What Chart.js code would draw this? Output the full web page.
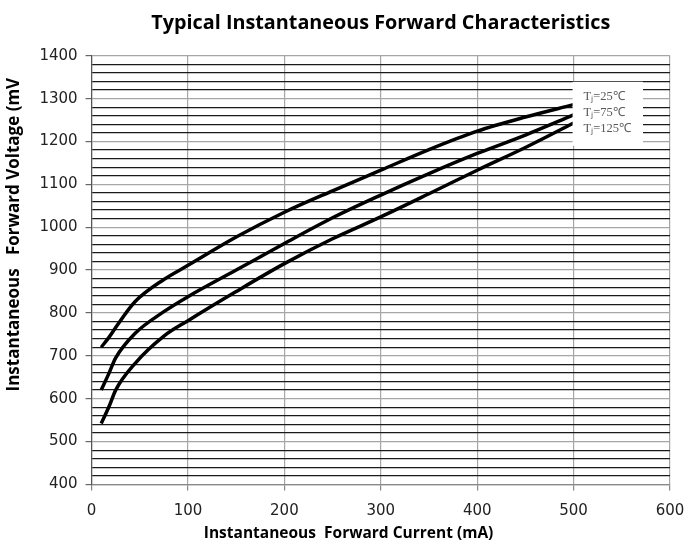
<!DOCTYPE html>
<html>
<head>
<meta charset="utf-8">
<script src="https://cdn.jsdelivr.net/npm/chart.js@4.4.1/dist/chart.umd.min.js"></script>
<style>
  body { margin: 0; background: #fff; }
  #wrap { width: 689px; height: 545px; position: relative; }
</style>
</head>
<body>
<div id="wrap"><canvas id="grafico"></canvas></div>
<script>
// datos
const corriente = [10, 18, 25, 45, 75, 100, 150, 200, 250, 300, 350, 400, 450, 500];
const v25 = [720, 743, 766, 826, 878, 911, 977, 1035, 1085, 1133, 1181, 1224, 1257, 1286];
const v75 = [620, 659, 695, 752, 803, 838, 900, 962, 1022, 1075, 1125, 1172, 1215, 1262];
const v125 = [542, 581, 620, 682, 746, 782, 850, 915, 973, 1024, 1078, 1133, 1186, 1243];
const etiquetas = ['T\u2C7C=25\u2103', 'T\u2C7C=75\u2103', 'T\u2C7C=125\u2103'];

function puntos(vals) {
    return corriente.map((c, i) => ({ x: c, y: vals[i] }));
}

// cuadro de leyenda blanco dentro del grafico
const leyenda = {
    id: 'leyenda',
    afterDatasetsDraw(chart) {
        const ctx = chart.ctx;
        const area = chart.chartArea;
        const x0 = chart.scales.x.getPixelForValue(500) - 1;
        const y0 = area.top + 26;
        ctx.save();
        ctx.fillStyle = '#fff';
        ctx.fillRect(x0, y0, area.right - 27 - x0, 64);
        ctx.fillStyle = '#595959';
        ctx.font = '12.5px "Liberation Serif"';
        ctx.textBaseline = 'middle';
        chart.data.datasets.forEach((ds, i) => {
            ctx.fillText(ds.label, x0 + 11, y0 + 15 + i * 16);
        });
        ctx.restore();
    }
};

const ctx = document.getElementById('grafico').getContext('2d');
new Chart(ctx, {
    type: 'line',
    data: {
        datasets: [v25, v75, v125].map((v, i) => ({
            label: etiquetas[i],
            data: puntos(v),
            borderColor: '#000',
            borderWidth: 3.5,
            pointRadius: 0,
            cubicInterpolationMode: 'monotone',
            fill: false
        }))
    },
    options: {
        responsive: true,
        maintainAspectRatio: false,
        animation: false,
        layout: { padding: { left: 4, right: 19, bottom: 2, top: 0 } },
        plugins: {
            legend: { display: false },
            tooltip: { enabled: false },
            title: {
                display: true,
                text: 'Typical Instantaneous Forward Characteristics',
                fullSize: false,
                color: '#000',
                font: { family: 'Open Sans', size: 19.8, weight: 'bold' },
                padding: { top: 11, bottom: 21 }
            }
        },
        scales: {
            x: {
                type: 'linear',
                min: 0,
                max: 600,
                afterFit: (s) => { s.paddingRight = 0; },
                ticks: { stepSize: 100, color: '#222', padding: 12, font: { family: 'DejaVu Sans', size: 15 } },
                grid: { color: '#a6a6a6', lineWidth: 1.2, tickLength: 6, tickColor: '#888' },
                border: { color: '#888', width: 1.2 },
                title: {
                    display: true,
                    // espacios al final para correr el texto a la izquierda como en la figura
                    text: 'Instantaneous  Forward Current (mA)                ',
                    color: '#000',
                    font: { family: 'Open Sans', size: 15.5, weight: 'bold' },
                    padding: { top: -8, bottom: 0 }
                }
            },
            y: {
                min: 400,
                max: 1400,
                ticks: {
                    stepSize: 20,
                    autoSkip: false,
                    color: '#222',
                    padding: 8,
                    font: { family: 'DejaVu Sans', size: 15 },
                    callback: (v) => (v % 100 === 0 ? v : '')
                },
                grid: {
                    color: (c) => (c.tick && c.tick.value % 100 === 0 ? '#a6a6a6' : '#1a1a1a'),
                    lineWidth: 1.2,
                    tickLength: 6,
                    tickColor: (c) => (c.tick && c.tick.value % 100 === 0 ? '#666' : 'rgba(0,0,0,0)')
                },
                border: { color: '#555', width: 1.2 },
                title: {
                    display: true,
                    text: 'Instantaneous   Forward Voltage (mV     ',
                    align: 'end',
                    color: '#000',
                    font: { family: 'Open Sans', size: 17, weight: 'bold' },
                    padding: { top: 0, bottom: 7 }
                }
            }
        }
    },
    plugins: [leyenda]
});
</script>
</body>
</html>
